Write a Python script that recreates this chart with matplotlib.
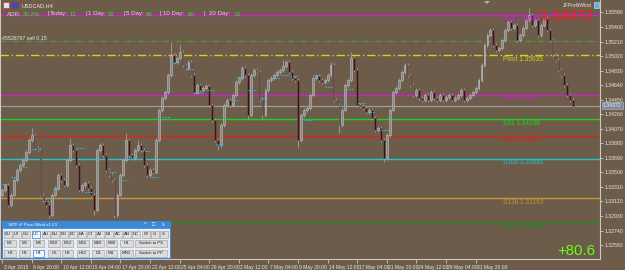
import matplotlib
matplotlib.use("Agg")
import matplotlib.pyplot as plt
from matplotlib.patches import Rectangle, Polygon
import matplotlib.transforms as mtransforms

plt.rcParams['font.family'] = ['Liberation Sans', 'DejaVu Sans']

# USDCAD H4 closes (oldest first)
closes = [
    1.3327, 1.3334, 1.3307, 1.3321, 1.3340, 1.3353, 1.3360, 1.3366, 1.3377, 1.3392,
    1.3399, 1.3382, 1.3379, 1.3321, 1.3314, 1.3307, 1.3294, 1.3321, 1.3330, 1.3347,
    1.3340, 1.3334, 1.3366, 1.3386, 1.3379, 1.3360, 1.3327, 1.3334, 1.3336, 1.3330,
    1.3321, 1.3301, 1.3379, 1.3386, 1.3373, 1.3353, 1.3347, 1.3340, 1.3294, 1.3321,
    1.3347, 1.3366, 1.3392, 1.3373, 1.3369, 1.3379, 1.3386, 1.3379, 1.3360, 1.3347,
    1.3353, 1.3351, 1.3392, 1.3432, 1.3447, 1.3455, 1.3477, 1.3503, 1.3494, 1.3500,
    1.3507, 1.3490, 1.3486, 1.3494, 1.3477, 1.3455, 1.3464, 1.3458, 1.3460, 1.3463,
    1.3438, 1.3419, 1.3392, 1.3386, 1.3412, 1.3438, 1.3445, 1.3438, 1.3451, 1.3468,
    1.3473, 1.3486, 1.3477, 1.3425, 1.3477, 1.3484, 1.3481, 1.3445, 1.3425, 1.3458,
    1.3471, 1.3473, 1.3477, 1.3481, 1.3484, 1.3489, 1.3494, 1.3481, 1.3473, 1.3471,
    1.3392, 1.3425, 1.3432, 1.3434, 1.3451, 1.3473, 1.3476, 1.3471, 1.3468, 1.3471,
    1.3477, 1.3490, 1.3445, 1.3438, 1.3412, 1.3432, 1.3464, 1.3471, 1.3500, 1.3484,
    1.3438, 1.3437, 1.3434, 1.3429, 1.3432, 1.3421, 1.3405, 1.3408, 1.3392, 1.3369,
    1.3399, 1.3432, 1.3455, 1.3460, 1.3471, 1.3481, 1.3490, 1.3477, 1.3464, 1.3451,
    1.3458, 1.3447, 1.3445, 1.3451, 1.3445, 1.3455, 1.3447, 1.3445, 1.3451, 1.3445,
    1.3449, 1.3451, 1.3445, 1.3447, 1.3451, 1.3458, 1.3445, 1.3447, 1.3451, 1.3455,
    1.3460, 1.3471, 1.3490, 1.3517, 1.3530, 1.3536, 1.3517, 1.3510, 1.3513, 1.3523,
    1.3536, 1.3547, 1.3539, 1.3543, 1.3523, 1.3530, 1.3539, 1.3549, 1.3556, 1.3543,
    1.3549, 1.3530, 1.3543, 1.3552, 1.3536, 1.3523, 1.3503, 1.3497, 1.3484, 1.3477,
    1.3464, 1.3451, 1.3445, 1.34372,
]
first_open = 1.3320

# wick extremes that stick out (bar index -> price)
high_spikes = {10: 1.3408, 23: 1.3395, 42: 1.3401, 46: 1.3392, 57: 1.3520, 60: 1.3517,
               95: 1.3497, 111: 1.3494, 118: 1.3507, 178: 1.3565}
low_spikes = {16: 1.3290, 31: 1.3294, 38: 1.3290, 73: 1.3379, 83: 1.3419, 88: 1.3419,
              100: 1.3382, 114: 1.3401, 129: 1.3363}

# short cyan marks (bar index, price)
mark_bars = [0, 4, 7, 11, 15, 18, 22, 26, 29, 32, 37, 41, 44, 48, 51, 55, 58, 63, 66, 70,
             73, 78, 80, 84, 88, 92, 95, 98, 103, 106, 110, 114, 117, 121, 124, 129]
mark_prices = [1.3335, 1.3344, 1.3357, 1.3381, 1.3313, 1.3328, 1.3317, 1.3382, 1.3325, 1.3367,
               1.3350, 1.3340, 1.3370, 1.3378, 1.3344, 1.3422, 1.3493, 1.3485, 1.3454, 1.3458,
               1.3387, 1.3445, 1.3475, 1.3458, 1.3447, 1.3473, 1.3477, 1.3476, 1.3419, 1.3477,
               1.3462, 1.3437, 1.3459, 1.3441, 1.3429, 1.3405]

# pivot levels
level_names = ['R38', 'Pivot', 'S38', 'S61', 'S78', 'S100', 'S138', 'S161']
level_prices = [1.35552, 1.35035, 1.34517, 1.34198, 1.33970, 1.33681, 1.33163, 1.32844]
level_colors = ['#d21ed2', '#d6d21a', '#d21ed2', '#1ed21e', '#d2281e', '#1ec8d2', '#c8913c', '#1e8c1e']
level_styles = ['-', (0, (6, 2, 1, 2)), '-', '-', '-', '-', '-', '-']

order_price = 1.35213
current_price = 1.34372
profit = '+80.6'

adr_labels = ['ADR:', 'Today:', '1 Day:', '5 Day:', '10 Day:', '20 Day:']
adr_values = ['20.2%', '12', '92', '66', '60', '61']

date_labels = ['3 Apr 2015', '8 Apr 20:00', '10 Apr 12:00', '15 Apr 04:00', '17 Apr 20:00',
               '22 Apr 12:00', '25 Apr 04:00', '29 Apr 20:00', '2 May 12:00', '7 May 04:00',
               '9 May 20:00', '14 May 12:00', '17 May 04:00', '21 May 20:00', '24 May 12:00',
               '29 May 04:00', '31 May 20:00']

pairs = ['EU', 'UJ', 'GU', 'UC', 'AU', 'NU', 'EG', 'EC', 'EA', 'CJ', 'AJ', 'NJ', 'AC', 'AN', 'NC', 'W', 'G', 'S']
row2 = ['M1', 'M5', 'M6', 'M10', 'M12', 'M15', 'M20', 'M30', 'H1', 'Switch to PS']
row3 = ['H2', 'H3', 'H4', 'H6', 'H8', 'H12', 'D1', 'W1', 'MN1', 'Switch to PP']

BG = '#6c5c49'
TXT = '#e8e8e8'

fig = plt.figure(figsize=(6.25, 2.70), dpi=100, facecolor=BG)
ax = fig.add_axes([0.0, 11 / 270, 600 / 625, 259 / 270], facecolor=BG)

n = len(closes)
opens = [first_open] + closes[:-1]
for i in range(n):
    o, c = opens[i], closes[i]
    hi = high_spikes.get(i, max(o, c) + 0.00025)
    lo = low_spikes.get(i, min(o, c) - 0.00025)
    ax.vlines(i, lo, hi, color='#a0a0a0', lw=0.6, zorder=3)
    bull = c >= o
    ax.bar(i, max(abs(c - o), 0.00005), bottom=min(o, c), width=0.62,
           color='#858585' if bull else '#421010',
           edgecolor='#c4c4c4' if bull else '#6e5e5e', linewidth=0.4, zorder=4)

for b, p in zip(mark_bars, mark_prices):
    ax.hlines(p, b - 0.8, b + 1.6, color='#2fb4e6', lw=0.8, linestyles=(0, (1.5, 1)), zorder=5)

tr = mtransforms.blended_transform_factory(ax.transAxes, ax.transData)
for name, p, col, ls in zip(level_names, level_prices, level_colors, level_styles):
    ax.axhline(p, color=col, lw=1.0, ls=ls, zorder=2)
    ax.text(503 / 600, p - 0.00010, '%s %.5f' % (name, p), transform=tr, color=col,
            fontsize=4.7, va='top', ha='left', zorder=6)

ax.axhline(order_price, color='#4f9a3a', lw=0.9, ls=(0, (5, 2, 1, 2)), zorder=2)
ax.axhline(current_price, color='#9c9c9c', lw=0.9, zorder=2)

ax.set_xlim(-0.68, (600 - 2) / 2.95 - 0.68)
ax.set_ylim(1.32368, 1.35753)

yt = [1.35590 - 0.0019 * k for k in range(17)]
ax.yaxis.tick_right()
ax.set_yticks(yt)
ax.set_yticklabels(['%.5f' % v for v in yt])
ax.tick_params(axis='y', colors='#c8c8c8', labelcolor=TXT, labelsize=3.7, length=2.5, width=0.6, pad=1)
ax.set_xticks(range(0, 10 * len(date_labels), 10))
ax.set_xticklabels(date_labels)
ax.tick_params(axis='x', colors='#c8c8c8', labelcolor=TXT, labelsize=3.6, length=3, width=0.6, pad=1)
offset = mtransforms.ScaledTranslation(1.5 / 100, 0, fig.dpi_scale_trans)
for lbl in ax.get_xticklabels():
    lbl.set_ha('left')
    lbl.set_transform(lbl.get_transform() + offset)
ax.spines['top'].set_visible(False)
for s in ['right', 'bottom', 'left']:
    ax.spines[s].set_color('#c8c8c8')
    ax.spines[s].set_linewidth(0.8)

# current price box on the axis
ax.text(1.005, current_price, '%.5f' % current_price, transform=tr, fontsize=3.7, color='#f0f0f0',
        va='center', ha='left', zorder=10, clip_on=False,
        bbox=dict(boxstyle='square,pad=0.2', fc='#7d8a99', ec='#aab4c0', lw=0.5))

# overlay for texts and the panel, in pixel units
ov = fig.add_axes([0, 0, 1, 1], facecolor='none')
ov.set_xlim(0, 625)
ov.set_ylim(270, 0)
ov.axis('off')

ov.add_patch(Rectangle((3, 2), 6, 6, fc='#e0e0f0', ec='#c03030', lw=0.4))
ov.add_patch(Rectangle((11, 2), 7, 6, fc='#3050c0', ec='#c03030', lw=0.4))
ov.text(22, 5.5, 'USDCAD,H4', fontsize=4.0, color=TXT, va='center')
ov.add_patch(Polygon([(484, 1), (490, 1), (487, 4)], closed=True, fc='#b0b0b0', ec='none'))
ov.text(592, 5.5, 'JFProfitWind', fontsize=3.6, color=TXT, va='center', ha='right')
ov.add_patch(Rectangle((594, 2), 5, 6, fc='#5ab4e0', ec='#e0e0e0', lw=0.4))

adr_x = [7, 50, 88, 126, 163, 209]
val_x = [23, 70, 108, 146, 188, 235]
bar_x = [47, 85, 123, 160, 203]
for lx, lab in zip(adr_x, adr_labels):
    ov.text(lx, 14, lab, fontsize=4.4, color='#d8d8d8', va='center')
for vx, v in zip(val_x, adr_values):
    ov.text(vx, 14, v, fontsize=4.4, color='#3cdc3c', va='center')
for bx in bar_x:
    ov.text(bx, 14, '|', fontsize=4.4, color='#d8d8d8', va='center')

ov.text(2, 38, '#5526767 sell 0.15', fontsize=3.8, color=TXT, va='center')
ov.text(540, 16, '%.5f' % current_price, fontsize=10.8, color='#ff1a1a', va='center', ha='left')
ov.text(595, 251, profit, fontsize=10.8, color='#66ff1a', va='center', ha='right')

# MTF pivot panel
ov.add_patch(Rectangle((2, 221), 168, 37, fc='#e8eef6', ec='#3a88d8', lw=0.8, zorder=5))
ov.add_patch(Rectangle((2, 221), 168, 7, fc='#3a88d8', ec='#3a88d8', lw=0.5, zorder=6))
ov.text(9, 224.5, 'MTF iF Pivot Wind v1.00', fontsize=3.2, color='white', va='center', zorder=7)
for k, sym in enumerate(['^', '\u25a1', 'x']):
    ov.text(145 + 9 * k, 224.5, sym, fontsize=4, color='white', va='center', ha='center', zorder=7)

px0 = [4, 13, 22, 32, 42, 51, 60, 69, 78, 87, 96, 105, 114, 123, 132, 142, 151, 160]
for k, p in enumerate(pairs):
    sel = p == 'UC'
    ov.add_patch(Rectangle((px0[k], 230.5), 7.5, 7, fc='#f4f8fc' if sel else '#dcdcdc',
                           ec='#2f7fd0' if sel else '#a8a8a8', lw=0.5, zorder=6))
    ov.text(px0[k] + 3.75, 234, p, fontsize=3.1, color='#202020', ha='center', va='center', zorder=7)

cx0 = [4, 19, 33, 48, 62, 77, 92, 106, 120, 135]
cx1 = [16, 30, 44, 60, 73, 89, 104, 117, 133, 167]
for row, y0 in [(row2, 240), (row3, 249.5)]:
    for k, lab in enumerate(row):
        sel = lab == 'H4'
        ov.add_patch(Rectangle((cx0[k], y0), cx1[k] - cx0[k], 7, fc='#f4f8fc' if sel else '#dcdcdc',
                               ec='#2f7fd0' if sel else '#a8a8a8', lw=0.5, zorder=6))
        ov.text((cx0[k] + cx1[k]) / 2, y0 + 3.5, lab, fontsize=3.1, color='#202020',
                ha='center', va='center', zorder=7)

fig.savefig('out.png', dpi=100, facecolor=BG)
